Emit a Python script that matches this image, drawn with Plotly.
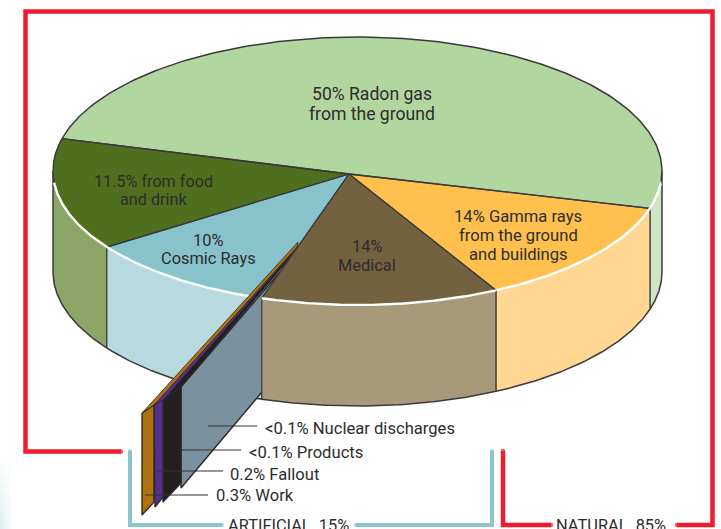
import numpy as np
import plotly.graph_objects as go

# ---------- data ----------
wedge_names = ["Radon gas", "Gamma rays", "Medical", "Cosmic Rays", "Food and drink"]
wedge_share = [50.6, 13.0, 12.6, 10.3, 13.5]      # size of each wedge as drawn, % of the rim
wedge_labels = [
    ["50% Radon gas", "from the ground"],
    ["14% Gamma rays", "from the ground", "and buildings"],
    ["14%", "Medical"],
    ["10%", "Cosmic Rays"],
    ["11.5% from food", "and drink"],
]
sheet_labels = ["0.3% Work", "0.2% Fallout", "<0.1% Products", "<0.1% Nuclear discharges"]
bracket_labels = ["ARTIFICIAL  15%", "NATURAL  85%"]

# ---------- styling / layout ----------
W, H = 721, 529
TOP = ["#b2d6a0", "#ffc04e", "#736140", "#88c2cb", "#4e701e"]
SIDE = ["#cfe5c5", "#ffd793", "#a8997b", "#b8d9de", "#8aa565"]
SHEET = ["#b0720f", "#5a2e8e", "#231f20", "#7a919f"]
RED, BLUE, DARK, INK = "#ee1c2e", "#88c5cd", "#3a3a3a", "#2d2d2d"
FONT = "Roboto"
CX, CY, A, B, DEPTH = 357.5, 171, 304.5, 134, 101
APEX = (349, 174)
START = 194.0

fig = go.Figure()


def rim(t0, t1, dy=0, n=90):
    t = np.radians(np.linspace(t0, t1, n))
    return CX + A * np.cos(t), CY + B * np.sin(t) + dy


def poly(x, y, fill, line=None, lw=1.2):
    fig.add_trace(go.Scatter(
        x=list(x) + [x[0]], y=list(y) + [y[0]], mode="lines", fill="toself",
        fillcolor=fill, line=dict(color=line or fill, width=lw if line else 0),
        hoverinfo="skip", showlegend=False))


def path(x, y, color, lw=1.2, caps=False):
    mode = "lines+markers" if caps else "lines"
    sizes = [lw if i in (0, len(x) - 1) else 0 for i in range(len(x))]
    fig.add_trace(go.Scatter(
        x=list(x), y=list(y), mode=mode, line=dict(color=color, width=lw),
        marker=dict(size=sizes, color=color, line=dict(width=0)),
        hoverinfo="skip", showlegend=False))


# wedge limits on the rim, from the shares
edges = START + np.cumsum([0] + wedge_share) * 3.6
spans = list(zip(edges[:-1], edges[1:]))


def draw_side(i):
    t0, t1 = spans[i]
    # only the front half of the rim shows a wall
    lo = max(t0 % 360 if t0 % 360 < 180 else 0, 0)
    hi = t1 % 360 if (t1 % 360) <= 180 and (t1 % 360) > lo else 180
    xt, yt = rim(lo, hi)
    xb, yb = rim(lo, hi, DEPTH)
    poly(np.r_[xt, xb[::-1]], np.r_[yt, yb[::-1]], SIDE[i])
    path(xb, yb, DARK, 1.5)
    if 0 < lo:
        path([xt[0], xb[0]], [yt[0], yb[0]], DARK, 1.2)
    if hi < 180:
        path([xt[-1], xb[-1]], [yt[-1], yb[-1]], DARK, 1.2)
    else:
        path([xt[-1], xb[-1]], [yt[-1], yb[-1]], DARK, 1.5)
    if lo == 0:
        path([xt[0], xb[0]], [yt[0], yb[0]], DARK, 1.5)


def draw_top(i):
    t0, t1 = spans[i]
    xr, yr = rim(t0, t1, n=160)
    poly(np.r_[APEX[0], xr], np.r_[APEX[1], yr], TOP[i])


def draw_rays(i):
    t0, t1 = spans[i]
    for t in (t0, t1):
        xr, yr = rim(t, t, n=1)
        path([APEX[0], xr[0]], [APEX[1], yr[0]], DARK, 1.3)


def draw_arc(i):
    t0, t1 = spans[i]
    t = np.linspace(t0, t1, 200)
    m = t % 360
    front = (m > 5) & (m < 175)
    if front.any():
        xr, yr = rim(t[front][0], t[front][-1], n=160)
        path(xr, yr, "white", 2.4)
    if (~front).any():
        back = t[~front]
        gaps = np.where(np.diff(back) > 2)[0]
        parts = np.split(back, gaps + 1)
        for p in parts:
            if len(p) > 1:
                xr, yr = rim(p[0], p[-1], n=160)
                path(xr, yr, DARK, 1.5)


# page tint in the lower-left corner, fading rightwards and upwards
for k in range(6):
    for r in range(8):
        alpha = 0.62 * (1 - k / 7) * (r + 1) / 8
        fig.add_shape(type="rect", x0=k * 1.9, x1=(k + 1) * 1.9,
                      y0=457 + r * 9, y1=457 + (r + 1) * 9, line_width=0,
                      fillcolor=f"rgba(205,228,230,{alpha:.2f})", layer="below")

# walls and tops, all but the medical wedge
for i in [0, 4, 3, 1]:
    draw_side(i)
for i in [0, 1, 3, 4]:
    draw_top(i)
for i in [0, 1, 3, 4]:
    draw_rays(i)
for i in [0, 1, 3, 4]:
    draw_arc(i)

# artificial sheets: blown-out slab, back to front
sheet_faces = [
    ([142, 154, 154, 142], [413, 405, 502, 515]),
    ([154, 163, 163, 155], [405, 400, 497, 507]),
    ([163, 181, 181, 163], [400, 387, 483, 502]),
    ([181, 280, 262, 181], [387, 272, 392, 488]),
]
slivers = [
    ([142, 298, 297, 154], [413, 242, 247, 405]),
    ([154, 297, 295, 163], [405, 247, 250, 400]),
    ([163, 295, 290, 181], [400, 250, 258, 387]),
]
for j in [3, 2, 1, 0]:
    poly(*sheet_faces[j], SHEET[j], "#2a2a2a", 1.4)
    if j < 3:
        poly(*slivers[j], SHEET[j], "#2a2a2a", 0.8)

# medical wedge goes over the slab
draw_side(2)
draw_top(2)
draw_rays(2)
draw_arc(2)

# leader lines to the sheet labels
leaders = [(145, 208, 495), (157, 223, 471), (181, 241, 450), (208, 257, 426)]
for x0, x1, y in leaders:
    path([x0, x1], [y, y], "#333333", 1.1)

# brackets
path([121, 25.5, 25.5, 712.5, 712.5, 677], [451.5, 451.5, 11.5, 11.5, 525, 525], RED, 4.5, caps=True)
path([503, 503, 551], [451, 525, 525], RED, 4.5, caps=True)
path([130, 130, 222], [451, 525, 525], BLUE, 4, caps=True)
path([356, 492, 492], [525, 525, 451], BLUE, 4, caps=True)

# texts
label_pos = [(372, [94, 114]), (518, [216, 235, 254]), (367, [246, 265]),
             (208, [240, 258.5]), (153, [181, 199.5])]
label_size = [17.6, 16.6, 16.4, 16.4, 16.2]
anns = []
for lines, (x, ys), size in zip(wedge_labels, label_pos, label_size):
    for line, y in zip(lines, ys):
        anns.append(dict(x=x, y=y, text=line, xanchor="center", font_size=size))
for text, (x, y) in zip(sheet_labels, [(214, 495), (228, 474), (247, 452), (263, 428)]):
    anns.append(dict(x=x, y=y, text=text, xanchor="left", font_size=16.6))
for text, x in zip(bracket_labels, [288, 611]):
    anns.append(dict(x=x, y=525, text=text, xanchor="center", font_size=16.4))
for a in anns:
    size = a.pop("font_size")
    a.update(xref="x", yref="y", yanchor="middle", showarrow=False,
             font=dict(family=FONT, size=size, color=INK))

fig.update_layout(
    width=W, height=H, margin=dict(l=0, r=0, t=0, b=0),
    paper_bgcolor="white", plot_bgcolor="white", showlegend=False,
    xaxis=dict(range=[0, W], visible=False, fixedrange=True),
    yaxis=dict(range=[H, 0], visible=False, fixedrange=True),
    annotations=anns,
)
fig.write_html("out.html", config={"displayModeBar": False},
               post_script="document.body.style.margin='0';document.body.style.overflow='hidden';")
